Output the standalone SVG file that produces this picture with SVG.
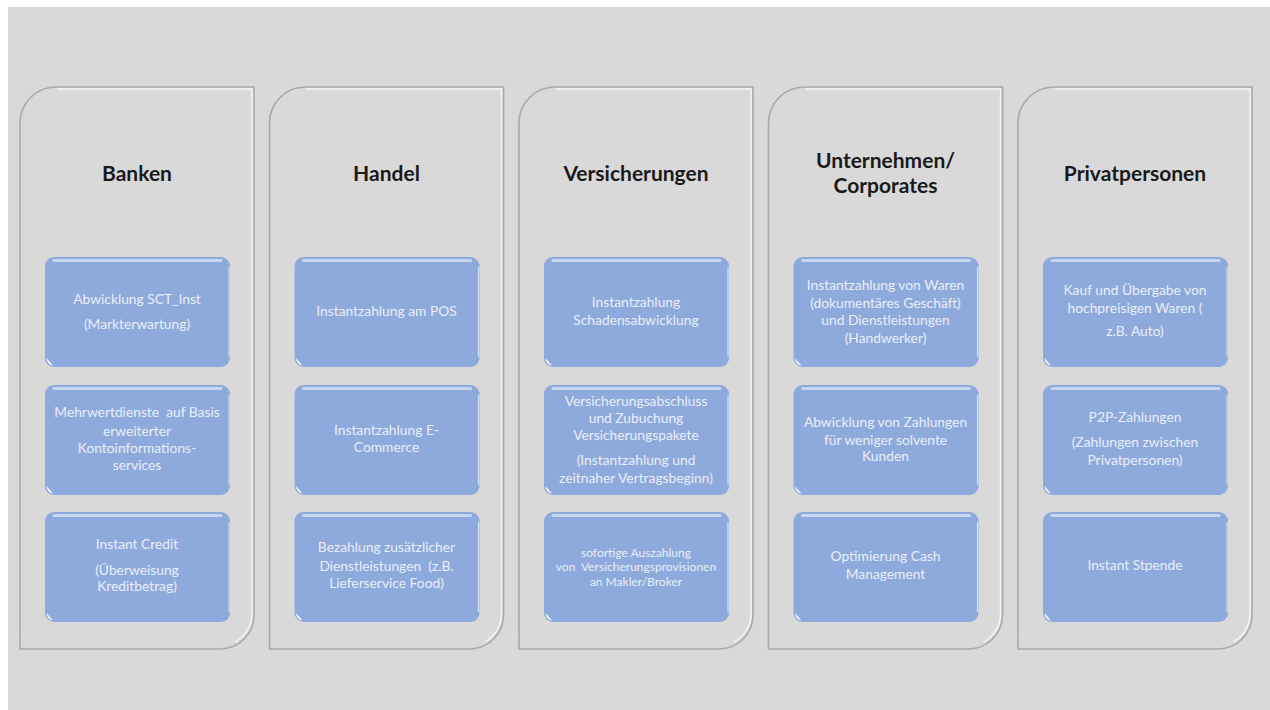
<svg xmlns="http://www.w3.org/2000/svg" width="1270" height="710" viewBox="0 0 1270 710">
<defs>
<style>
.bg{fill:#d9d9d9}
.col{fill:#d9d9d9;stroke:#a9a9a9;stroke-width:1.6}
.colhi{fill:none;stroke:#f4f6f8;stroke-width:1.4}
.box{fill:#8eaadc}
.boxtop{stroke:#c8d7f1;stroke-width:3;stroke-linecap:round}
.boxr{stroke:#d3e0f5;stroke-width:1.2}
.dot{fill:#f4f7fc}
text{white-space:pre}
.title{font-family:Lato,"Liberation Sans",sans-serif;font-weight:bold;font-size:21px;fill:#1a1a1a;text-anchor:middle}
.t{font-family:Lato,"Liberation Sans",sans-serif;font-size:13.8px;fill:#e9eef8;text-anchor:middle}
.ts{font-family:Lato,"Liberation Sans",sans-serif;font-size:12px;fill:#e9eef8;text-anchor:middle}
</style>
<g id="boxshape">
<rect class="box" x="0" y="0" width="185" height="110" rx="9"/>
<line class="boxtop" x1="9" y1="3.5" x2="176" y2="3.5"/>
<line class="boxr" x1="184" y1="10" x2="184" y2="100"/>
<path class="dot" d="M1.5,101 Q2,107.5 8,108.5 Q4,104 1.5,101 Z"/>
</g>
</defs>
<rect x="0" y="0" width="1270" height="710" fill="#ffffff"/>
<rect class="bg" x="8" y="7" width="1262" height="703"/>

<g id="connectors"></g>

<g id="col-banken">
<path class="col" d="M20,123 A36,36 0 0 1 56,87 H254 V615 A34,34 0 0 1 220,649 H20 Z"/>
<path class="colhi" d="M57,89 H252 V614 A32,32 0 0 1 235,642"/>
<text class="title" x="137" y="181">Banken</text>
</g>
<g id="banken-1"><use href="#boxshape" x="45" y="257"/>
<text class="t" x="137" y="304">Abwicklung SCT_Inst</text>
<text class="t" x="137" y="329">(Markterwartung)</text></g>
<g id="banken-2"><use href="#boxshape" x="45" y="385"/>
<text class="t" x="137" y="417">Mehrwertdienste  auf Basis</text>
<text class="t" x="137" y="436">erweiterter</text>
<text class="t" x="137" y="453">Kontoinformations-</text>
<text class="t" x="137" y="470">services</text></g>
<g id="banken-3"><use href="#boxshape" x="45" y="512"/>
<text class="t" x="137" y="549">Instant Credit</text>
<text class="t" x="137" y="575">(Überweisung</text>
<text class="t" x="137" y="591">Kreditbetrag)</text></g>

<g id="col-handel">
<path class="col" d="M269.5,123 A36,36 0 0 1 305.5,87 H503.5 V615 A34,34 0 0 1 469.5,649 H269.5 Z"/>
<path class="colhi" d="M306.5,89 H501.5 V614 A32,32 0 0 1 484.5,642"/>
<text class="title" x="386.5" y="181">Handel</text>
</g>
<g id="handel-1"><use href="#boxshape" x="294.5" y="257"/>
<text class="t" x="386.5" y="316">Instantzahlung am POS</text></g>
<g id="handel-2"><use href="#boxshape" x="294.5" y="385"/>
<text class="t" x="386.5" y="435">Instantzahlung E-</text>
<text class="t" x="386.5" y="452">Commerce</text></g>
<g id="handel-3"><use href="#boxshape" x="294.5" y="512"/>
<text class="t" x="386.5" y="552">Bezahlung zusätzlicher</text>
<text class="t" x="386.5" y="571">Dienstleistungen  (z.B.</text>
<text class="t" x="386.5" y="588">Lieferservice Food)</text></g>

<g id="col-versicherungen">
<path class="col" d="M519,123 A36,36 0 0 1 555,87 H753 V615 A34,34 0 0 1 719,649 H519 Z"/>
<path class="colhi" d="M556,89 H751 V614 A32,32 0 0 1 734,642"/>
<text class="title" x="636" y="181">Versicherungen</text>
</g>
<g id="vers-1"><use href="#boxshape" x="544" y="257"/>
<text class="t" x="636" y="307">Instantzahlung</text>
<text class="t" x="636" y="325">Schadensabwicklung</text></g>
<g id="vers-2"><use href="#boxshape" x="544" y="385"/>
<text class="t" x="636" y="406">Versicherungsabschluss</text>
<text class="t" x="636" y="423">und Zubuchung</text>
<text class="t" x="636" y="440">Versicherungspakete</text>
<text class="t" x="636" y="465">(Instantzahlung und</text>
<text class="t" x="636" y="483">zeitnaher Vertragsbeginn)</text></g>
<g id="vers-3"><use href="#boxshape" x="544" y="512"/>
<text class="ts" x="636" y="557">sofortige Auszahlung</text>
<text class="ts" x="636" y="571">von  Versicherungsprovisionen</text>
<text class="ts" x="636" y="586">an Makler/Broker</text></g>

<g id="col-unternehmen">
<path class="col" d="M768.5,123 A36,36 0 0 1 804.5,87 H1002.5 V615 A34,34 0 0 1 968.5,649 H768.5 Z"/>
<path class="colhi" d="M805.5,89 H1000.5 V614 A32,32 0 0 1 983.5,642"/>
<text class="title" x="885.5" y="168">Unternehmen/</text>
<text class="title" x="885.5" y="193">Corporates</text>
</g>
<g id="unt-1"><use href="#boxshape" x="793.5" y="257"/>
<text class="t" x="885.5" y="290">Instantzahlung von Waren</text>
<text class="t" x="885.5" y="308">(dokumentäres Geschäft)</text>
<text class="t" x="885.5" y="325">und Dienstleistungen</text>
<text class="t" x="885.5" y="343">(Handwerker)</text></g>
<g id="unt-2"><use href="#boxshape" x="793.5" y="385"/>
<text class="t" x="885.5" y="427">Abwicklung von Zahlungen</text>
<text class="t" x="885.5" y="445">für weniger solvente</text>
<text class="t" x="885.5" y="461">Kunden</text></g>
<g id="unt-3"><use href="#boxshape" x="793.5" y="512"/>
<text class="t" x="885.5" y="561">Optimierung Cash</text>
<text class="t" x="885.5" y="579">Management</text></g>

<g id="col-privat">
<path class="col" d="M1018,123 A36,36 0 0 1 1054,87 H1252 V615 A34,34 0 0 1 1218,649 H1018 Z"/>
<path class="colhi" d="M1055,89 H1250 V614 A32,32 0 0 1 1233,642"/>
<text class="title" x="1135" y="181">Privatpersonen</text>
</g>
<g id="priv-1"><use href="#boxshape" x="1043" y="257"/>
<text class="t" x="1135" y="295">Kauf und Übergabe von</text>
<text class="t" x="1135" y="313">hochpreisigen Waren (</text>
<text class="t" x="1135" y="336">z.B. Auto)</text></g>
<g id="priv-2"><use href="#boxshape" x="1043" y="385"/>
<text class="t" x="1135" y="422">P2P-Zahlungen</text>
<text class="t" x="1135" y="447">(Zahlungen zwischen</text>
<text class="t" x="1135" y="465">Privatpersonen)</text></g>
<g id="priv-3"><use href="#boxshape" x="1043" y="512"/>
<text class="t" x="1135" y="570">Instant Stpende</text></g>
</svg>
